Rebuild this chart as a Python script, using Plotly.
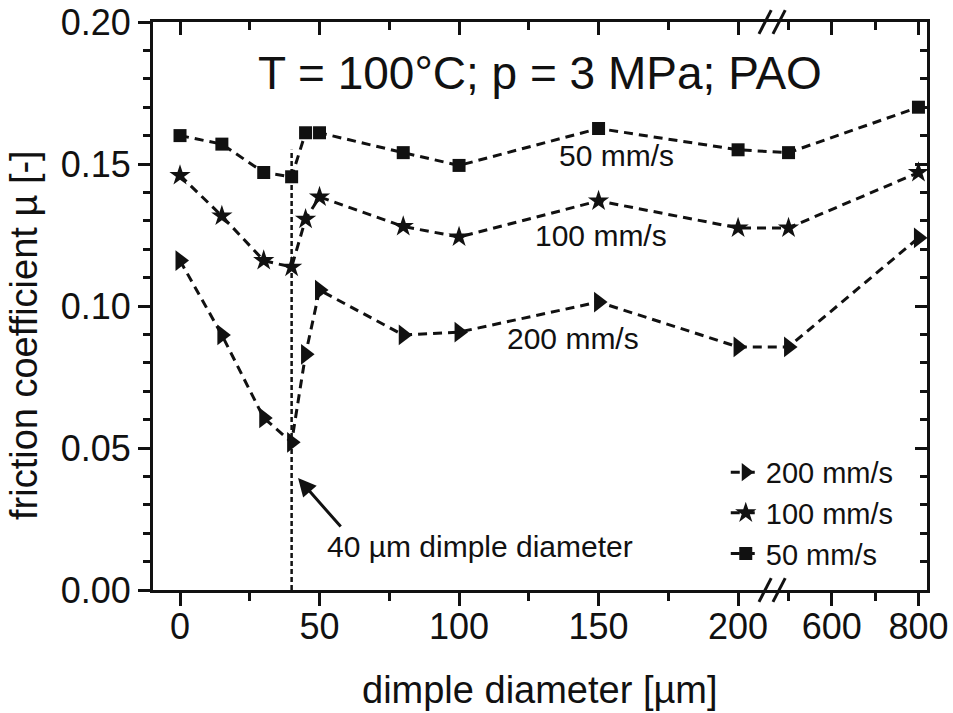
import plotly.graph_objects as go

# ---------------- data ----------------
diameter = [0, 15, 30, 40, 45, 50, 80, 100, 150, 200, 500, 800]
mu_200 = [0.116, 0.0898, 0.0606, 0.052, 0.083, 0.1056, 0.0898, 0.0908, 0.1014, 0.0856, 0.0856, 0.124]
mu_100 = [0.146, 0.1317, 0.116, 0.1137, 0.1306, 0.1384, 0.128, 0.1243, 0.137, 0.1275, 0.1275, 0.147]
mu_50 = [0.160, 0.157, 0.147, 0.1455, 0.161, 0.161, 0.154, 0.1495, 0.1625, 0.155, 0.154, 0.170]
series_names = ["200 mm/s", "100 mm/s", "50 mm/s"]

x_major = [0, 50, 100, 150, 200, 600, 800]
x_major_text = ["0", "50", "100", "150", "200", "600", "800"]
x_minor = [25, 75, 125, 175, 500, 700]

marked_diameter = 40
marked_mu_top = 0.155

# ---------------- broken-axis transform ----------------
BREAK = 212.0        # last value of the linear lower segment
U600 = 233.6         # axis position of 600 on the compressed segment
K = 0.1552           # compression factor of the upper segment


def tr(v):
    return v if v <= BREAK else U600 + (v - 600) * K


u = [tr(v) for v in diameter]

FONT = "Liberation Sans, Arial, sans-serif"
BLACK = "#111111"

fig = go.Figure()

symbols = ["triangle-right", "star", "square"]
sizes = [18, 16, 13]
for name, ys, sym, sz in zip(series_names, [mu_200, mu_100, mu_50], symbols, sizes):
    fig.add_trace(go.Scatter(
        x=u, y=ys, name=name, mode="lines+markers",
        line=dict(color=BLACK, width=3, dash="9px,6px"),
        marker=dict(symbol=sym, size=sz, color=BLACK, line=dict(width=0)),
    ))

# vertical marker line at 40 µm
fig.add_trace(go.Scatter(
    x=[tr(marked_diameter), tr(marked_diameter)], y=[0, marked_mu_top],
    mode="lines", line=dict(color=BLACK, width=2.5, dash="5px,3px"),
    showlegend=False, hoverinfo="skip",
))

xr = [-9.68, 267.7]
yr = [0, 0.2]

axis_common = dict(showgrid=False, zeroline=False, showline=True, automargin=False,
                   linecolor=BLACK, linewidth=3, tickcolor=BLACK, tickwidth=3)

fig.update_layout(
    width=953, height=713,
    margin=dict(l=153, r=26, t=22, b=123),
    paper_bgcolor="white", plot_bgcolor="white",
    font=dict(family=FONT, color=BLACK, size=36),
    xaxis=dict(range=xr, tickmode="array", tickvals=[tr(v) for v in x_major],
               ticktext=x_major_text, ticks="outside", ticklen=13,
               ticklabelstandoff=-10,
               minor=dict(tickmode="array", tickvals=[tr(v) for v in x_minor],
                          ticks="outside", ticklen=8, tickwidth=3, tickcolor=BLACK),
               tickfont=dict(size=36), **axis_common),
    yaxis=dict(range=yr, tickmode="array", tickvals=[0, 0.05, 0.10, 0.15, 0.20],
               tickformat=".2f", ticks="outside", ticklen=12,
               minor=dict(dtick=0.01, ticks="outside", ticklen=7, tickwidth=3, tickcolor=BLACK),
               tickfont=dict(size=36), **axis_common),
    xaxis2=dict(overlaying="x", side="top", range=xr, tickmode="array",
                tickvals=[tr(v) for v in x_major], showticklabels=False,
                ticks="inside", ticklen=13,
                minor=dict(tickmode="array", tickvals=[tr(v) for v in x_minor],
                           ticks="inside", ticklen=8, tickwidth=3, tickcolor=BLACK),
                **axis_common),
    yaxis2=dict(overlaying="y", side="right", range=yr, tickmode="array",
                tickvals=[0, 0.05, 0.10, 0.15, 0.20], showticklabels=False,
                ticks="inside", ticklen=12,
                minor=dict(dtick=0.01, ticks="inside", ticklen=7, tickwidth=3, tickcolor=BLACK),
                **axis_common),
    legend=dict(x=0.740, y=0.018, xanchor="left", yanchor="bottom",
                bgcolor="rgba(0,0,0,0)", font=dict(size=29), tracegroupgap=0,
                itemwidth=30),
    showlegend=True,
)

# invisible trace to activate the secondary axes
fig.add_trace(go.Scatter(x=[xr[0]], y=[0], xaxis="x2", yaxis="y2", mode="markers",
                         marker=dict(opacity=0), showlegend=False, hoverinfo="skip"))

# axis break marks (//) at bottom and top
ub = (772 - 180) / 2.79
for yb in (0, 1):
    for dx in (-7, 7):
        fig.add_shape(type="line", xref="x", yref="paper",
                      x0=ub + dx / 2.79 - 2.2, x1=ub + dx / 2.79 + 2.2,
                      y0=yb - 0.021, y1=yb + 0.021,
                      line=dict(color=BLACK, width=3))

# title inside the plot
fig.add_annotation(text="T = 100°C; p = 3 MPa; PAO", xref="paper", yref="paper",
                   x=(540 - 153) / 774, y=(590 - 73) / 568, showarrow=False,
                   font=dict(size=46), xanchor="center", yanchor="middle")

# inline series labels
for txt, xv, yv in [("50 mm/s", 156.6, 0.1530), ("100 mm/s", 150.9, 0.1250), ("200 mm/s", 140.8, 0.0887)]:
    fig.add_annotation(text=txt, x=xv, y=yv, showarrow=False, font=dict(size=30),
                       xanchor="center", yanchor="middle")

# arrow + text for 40 µm dimple diameter
fig.add_annotation(x=42.3, y=0.0394, ax=44, ay=50, text="", showarrow=True,
                   arrowhead=2, arrowsize=1.2, arrowwidth=3, arrowcolor=BLACK)
fig.add_annotation(text="40 µm dimple diameter", x=(480 - 180) / 2.79, y=(590 - 546) / 2840,
                   showarrow=False, font=dict(size=30), xanchor="center", yanchor="middle")

# axis titles
fig.add_annotation(text="dimple diameter [µm]", xref="paper", yref="paper",
                   x=(540 - 153) / 774, y=(590 - 690) / 568, showarrow=False,
                   font=dict(size=38), xanchor="center", yanchor="middle")
fig.add_annotation(text="friction coefficient µ [-]", xref="paper", yref="paper",
                   x=(24 - 153) / 774, y=(590 - 335) / 568, showarrow=False,
                   font=dict(size=38), textangle=-90, xanchor="center", yanchor="middle")

fig.write_html("out.html")
